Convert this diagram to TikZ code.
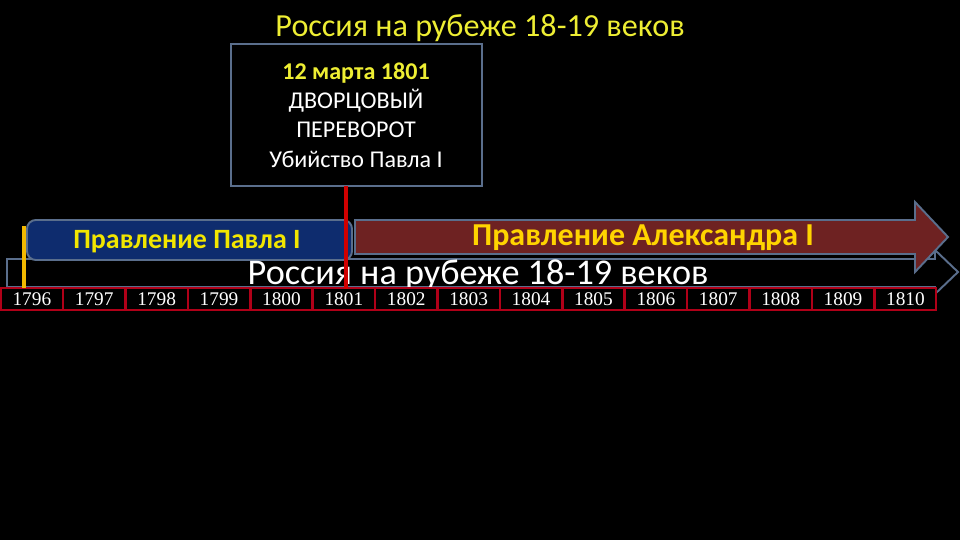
\documentclass[tikz,border=0pt]{standalone}
\usepackage{fontspec}
\setmainfont{Carlito}
\newfontfamily\yearfont{Liberation Serif}
\definecolor{bordergray}{HTML}{5A6E8C}
\definecolor{titleyellow}{HTML}{EEEE33}
\definecolor{banyellow}{HTML}{F2E600}
\definecolor{alexyellow}{HTML}{FFD400}
\definecolor{pavelblue}{HTML}{0E2C6E}
\definecolor{alexred}{HTML}{6E2222}
\definecolor{yearred}{HTML}{B00018}
\definecolor{linered}{HTML}{D00000}
\definecolor{lineyellow}{HTML}{F2B800}
\tikzset{
  yearbox/.style={draw=yearred, line width=1.1pt, fill=black, minimum width=62pt*0.567, minimum height=22*0.567pt, inner sep=0pt, text=white, font=\yearfont\fontsize{11}{13}\selectfont, anchor=north west},
  evtext/.style={text=white, font=\fontsize{13.7}{16}\selectfont, inner sep=0pt},
}
\begin{document}
\begin{tikzpicture}[x=0.02cm, y=-0.02cm]
\useasboundingbox[fill=black] (0,0) rectangle (960,540);
% title
\node[text=titleyellow, font=\fontsize{18.3}{22}\selectfont, inner sep=0pt] (title) at (480,28) {Россия на рубеже 18-19 веков};
% background arrow (black)
\draw[bordergray, line width=1.1pt, fill=black] (7,259) -- (935,259) -- (935,250) -- (958,272) -- (935,294) -- (935,287) -- (7,287) -- cycle;
% Alexander arrow
\draw[bordergray, line width=1.1pt, fill=alexred] (355,220) -- (915,220) -- (915,202) -- (948,237) -- (915,272) -- (915,254) -- (355,254) -- cycle;
\node[text=alexyellow, font=\bfseries\fontsize{18.2}{21}\selectfont, inner sep=0pt] (alex) at (643,238) {Правление Александра I};
% Pavel banner
\draw[bordergray, line width=1.1pt, fill=pavelblue, rounded corners=5pt] (27,220) rectangle (352,260);
\node[text=banyellow, font=\bfseries\fontsize{15.9}{18}\selectfont, inner sep=0pt] (pavel) at (187,242) {Правление Павла I};
% big white text
\node[text=white, font=\fontsize{20.6}{24}\selectfont, inner sep=0pt] (bigtext) at (478,275) {Россия на рубеже 18-19 веков};
% years
\foreach \i [count=\k from 0] in {1796,...,1810} {
  \node[yearbox] (y\i) at ({\k*62.4},287) {\i};
}
% event box
\node[draw=bordergray, line width=1.1pt, fill=black, minimum width=252*0.567pt, minimum height=143*0.567pt, inner sep=0pt, anchor=north west] (event) at (230,43) {};
\node[evtext, text=titleyellow, font=\bfseries\fontsize{13.7}{16}\selectfont] (ev1) at (356,73) {12 марта 1801};
\node[evtext] (ev2) at (356,101) {ДВОРЦОВЫЙ};
\node[evtext] (ev3) at (356,130) {ПЕРЕВОРОТ};
\node[evtext] (ev4) at (356,159) {Убийство Павла I};
% lines
\coordinate (redtop) at (346,186);
\coordinate (redbot) at (346,289);
\draw[linered, line width=2.3pt] (redtop) -- (redbot);
\coordinate (yeltop) at (24,226);
\coordinate (yelbot) at (24,288);
\draw[lineyellow, line width=2.8pt] (yeltop) -- (yelbot);
\end{tikzpicture}
\end{document}
